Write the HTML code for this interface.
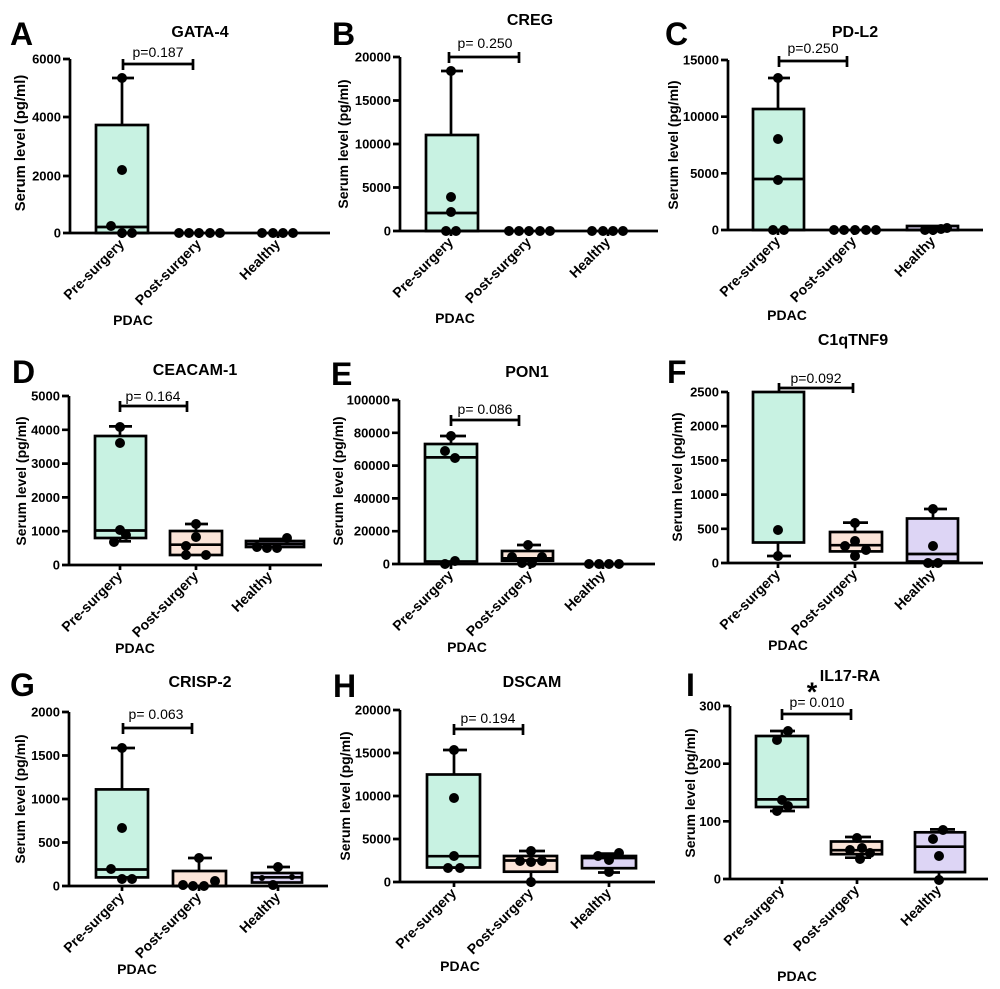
<!DOCTYPE html>
<html>
<head>
<meta charset="utf-8">
<style>
html,body{margin:0;padding:0;background:#fff;}
svg{display:block;}
text{font-family:"Liberation Sans",Arial,sans-serif;fill:#000;}
.let{font-weight:bold;font-size:32px;}
.ttl{font-weight:bold;font-size:16px;text-anchor:middle;}
.tk{font-weight:bold;font-size:13px;text-anchor:end;}
.xl{font-weight:bold;font-size:14px;text-anchor:end;}
.yl{font-weight:bold;font-size:14px;text-anchor:middle;}
.pv{font-size:14px;text-anchor:middle;}
.pd{font-weight:bold;font-size:14px;text-anchor:middle;}
.ax{stroke:#000;stroke-width:2.7;fill:none;}
.bx{stroke:#000;stroke-width:2.7;}
.g{fill:#c8f2e2;}
.o{fill:#fbe4d8;}
.l{fill:#ddd5f5;}
circle{fill:#000;}
</style>
</head>
<body>
<svg width="1000" height="989" viewBox="0 0 1000 989" xmlns="http://www.w3.org/2000/svg">
<rect width="1000" height="989" fill="#fff"/>

<!-- ===== A ===== -->
<g>
<text class="let" x="10" y="45">A</text>
<text class="ttl" x="200" y="37">GATA-4</text>
<rect class="bx g" x="96" y="125" width="52" height="108"/>
<path class="ax" d="M96,227H148 M122,125V78 M112,78H134"/>
<path class="ax" d="M70,59V233 M63,59H70 M63,117H70 M63,176H70 M63,233H330 M122,233v5 M199,233v5 M278,233v5"/>
<text class="tk" x="61" y="63.5">6000</text>
<text class="tk" x="61" y="121.5">4000</text>
<text class="tk" x="61" y="180.5">2000</text>
<text class="tk" x="61" y="237.5">0</text>
<circle cx="122" cy="78" r="5"/><circle cx="122" cy="170" r="5"/><circle cx="111" cy="226" r="5"/><circle cx="122" cy="233" r="5"/><circle cx="132" cy="233" r="5"/>
<circle cx="179" cy="233" r="5"/><circle cx="189" cy="233" r="5"/><circle cx="199" cy="233" r="5"/><circle cx="210" cy="233" r="5"/><circle cx="220" cy="233" r="5"/>
<circle cx="262" cy="233" r="5"/><circle cx="273" cy="233" r="5"/><circle cx="283" cy="233" r="5"/><circle cx="293" cy="233" r="5"/>
<path class="ax" d="M123,59V70 M123,64H193 M193,59V70"/>
<text class="pv" x="158" y="57">p=0.187</text>
<text class="yl" style="font-size:14.8px" transform="translate(25,143) rotate(-90)">Serum level (pg/ml)</text>
<text class="xl" transform="translate(125,245) rotate(-45)">Pre-surgery</text>
<text class="xl" transform="translate(202,245) rotate(-45)">Post-surgery</text>
<text class="xl" transform="translate(281,245) rotate(-45)">Healthy</text>
<text class="pd" x="133" y="325">PDAC</text>
</g>

<!-- ===== B ===== -->
<g>
<text class="let" x="332" y="45">B</text>
<text class="ttl" x="530" y="25">CREG</text>
<rect class="bx g" x="426" y="135" width="52" height="96"/>
<path class="ax" d="M426,213H478 M451,135V71 M441,71H463"/>
<path class="ax" d="M400,57V231 M393,57H400 M393,100.5H400 M393,144H400 M393,187.5H400 M393,231H658 M451,231v5 M529,231v5 M608,231v5"/>
<text class="tk" x="391" y="61.5">20000</text>
<text class="tk" x="391" y="105">15000</text>
<text class="tk" x="391" y="148.5">10000</text>
<text class="tk" x="391" y="192">5000</text>
<text class="tk" x="391" y="235.5">0</text>
<circle cx="451" cy="71" r="5"/><circle cx="451" cy="197" r="5"/><circle cx="451" cy="212" r="5"/><circle cx="446" cy="231" r="5"/><circle cx="456" cy="231" r="5"/>
<circle cx="509" cy="231" r="5"/><circle cx="519" cy="231" r="5"/><circle cx="529" cy="231" r="5"/><circle cx="540" cy="231" r="5"/><circle cx="550" cy="231" r="5"/>
<circle cx="592" cy="231" r="5"/><circle cx="603" cy="231" r="5"/><circle cx="613" cy="231" r="5"/><circle cx="623" cy="231" r="5"/>
<path class="ax" d="M449,52V63 M449,57H519 M519,52V63"/>
<text class="pv" x="485" y="48">p= 0.250</text>
<text class="yl" transform="translate(348,144) rotate(-90)">Serum level (pg/ml)</text>
<text class="xl" transform="translate(454,243) rotate(-45)">Pre-surgery</text>
<text class="xl" transform="translate(532,243) rotate(-45)">Post-surgery</text>
<text class="xl" transform="translate(611,243) rotate(-45)">Healthy</text>
<text class="pd" x="455" y="323">PDAC</text>
</g>

<!-- ===== C ===== -->
<g>
<text class="let" x="665" y="45">C</text>
<text class="ttl" x="855" y="37">PD-L2</text>
<rect class="bx g" x="753" y="109" width="51" height="121"/>
<path class="ax" d="M753,179H804 M778,109V78 M768,78H790"/>
<rect class="bx l" x="907" y="226" width="51" height="4"/>
<path class="ax" d="M721,60H728 M728,60V230 M721,116.7H728 M721,173.3H728 M721,230H983 M778,230v5 M854,230v5 M933,230v5"/>
<text class="tk" x="719" y="64.5">15000</text>
<text class="tk" x="719" y="121.2">10000</text>
<text class="tk" x="719" y="177.8">5000</text>
<text class="tk" x="719" y="234.5">0</text>
<circle cx="778" cy="78" r="5"/><circle cx="778" cy="139" r="5"/><circle cx="778" cy="180" r="5"/><circle cx="773" cy="230" r="5"/><circle cx="784" cy="230" r="5"/>
<circle cx="834" cy="230" r="5"/><circle cx="844" cy="230" r="5"/><circle cx="855" cy="230" r="5"/><circle cx="866" cy="230" r="5"/><circle cx="876" cy="230" r="5"/>
<circle cx="925" cy="230" r="5"/><circle cx="933" cy="230" r="5"/><circle cx="941" cy="229" r="5"/><circle cx="947" cy="228" r="5"/>
<path class="ax" d="M779,56V67 M779,61H847 M847,56V67"/>
<text class="pv" x="813" y="53">p=0.250</text>
<text class="yl" transform="translate(678,145) rotate(-90)">Serum level (pg/ml)</text>
<text class="xl" transform="translate(781,242) rotate(-45)">Pre-surgery</text>
<text class="xl" transform="translate(857,242) rotate(-45)">Post-surgery</text>
<text class="xl" transform="translate(936,242) rotate(-45)">Healthy</text>
<text class="pd" x="787" y="320">PDAC</text>
</g>

<!-- ===== D ===== -->
<g>
<text class="let" x="12" y="383">D</text>
<text class="ttl" x="195" y="375">CEACAM-1</text>
<rect class="bx g" x="95" y="436" width="51" height="102"/>
<path class="ax" d="M95,530.5H146 M120,436V426.4 M109,426.4H132 M120,538V541.3 M110,541.3H131"/>
<rect class="bx o" x="170" y="531" width="52" height="24"/>
<path class="ax" d="M170,544.7H222 M196,531V524 M185,524H208"/>
<rect class="bx l" x="246" y="541" width="58" height="6"/>
<path class="ax" d="M246,544H304 M270,541V539 M259,539H287"/>
<path class="ax" d="M69,396V565 M62,396H69 M62,429.8H69 M62,463.6H69 M62,497.4H69 M62,531.2H69 M62,565H322 M120,565v5 M196,565v5 M270,565v5"/>
<text class="tk" x="60" y="400.5">5000</text>
<text class="tk" x="60" y="434.3">4000</text>
<text class="tk" x="60" y="468.1">3000</text>
<text class="tk" x="60" y="501.9">2000</text>
<text class="tk" x="60" y="535.7">1000</text>
<text class="tk" x="60" y="569.5">0</text>
<circle cx="120" cy="427" r="5"/><circle cx="120" cy="443" r="5"/><circle cx="120" cy="530" r="5"/><circle cx="126" cy="535" r="5"/><circle cx="114" cy="542" r="5"/>
<circle cx="196" cy="524" r="5"/><circle cx="196" cy="537" r="5"/><circle cx="186" cy="546" r="5"/><circle cx="186" cy="555" r="5"/><circle cx="206" cy="555" r="5"/>
<circle cx="257" cy="547" r="5"/><circle cx="267" cy="548" r="5"/><circle cx="277" cy="548" r="5"/><circle cx="287" cy="538" r="5"/>
<path class="ax" d="M120,401V412 M120,406H187 M187,401V412"/>
<text class="pv" x="153" y="401">p= 0.164</text>
<text class="yl" transform="translate(26,481) rotate(-90)">Serum level (pg/ml)</text>
<text class="xl" transform="translate(123,577) rotate(-45)">Pre-surgery</text>
<text class="xl" transform="translate(199,577) rotate(-45)">Post-surgery</text>
<text class="xl" transform="translate(273,577) rotate(-45)">Healthy</text>
<text class="pd" x="135" y="653">PDAC</text>
</g>

<!-- ===== E ===== -->
<g>
<text class="let" x="331" y="385">E</text>
<text class="ttl" x="527" y="377">PON1</text>
<rect class="bx g" x="425" y="444" width="52" height="117.5"/>
<path class="ax" d="M425,457.4H477 M451,444V436 M440,436H466"/>
<rect class="bx o" x="502" y="551" width="51" height="9.7"/>
<path class="ax" d="M502,558.3H553 M528,551V545 M517,545H541"/>
<path class="ax" d="M399,400V564 M392,400H399 M392,432.8H399 M392,465.6H399 M392,498.4H399 M392,531.2H399 M392,564H655 M451,564v5 M530,564v5 M603,564v5"/>
<text class="tk" x="390" y="404.5">100000</text>
<text class="tk" x="390" y="437.3">80000</text>
<text class="tk" x="390" y="470.1">60000</text>
<text class="tk" x="390" y="502.9">40000</text>
<text class="tk" x="390" y="535.7">20000</text>
<text class="tk" x="390" y="568.5">0</text>
<circle cx="451" cy="436" r="5"/><circle cx="445" cy="451" r="5"/><circle cx="455" cy="458" r="5"/><circle cx="445" cy="564" r="5"/><circle cx="455" cy="561" r="5"/>
<circle cx="528" cy="545" r="5"/><circle cx="512" cy="557" r="5"/><circle cx="522" cy="563" r="5"/><circle cx="532" cy="563" r="5"/><circle cx="542" cy="557" r="5"/>
<circle cx="589" cy="564" r="5"/><circle cx="599" cy="564" r="5"/><circle cx="609" cy="564" r="5"/><circle cx="619" cy="564" r="5"/>
<path class="ax" d="M451,415V426 M451,420H519 M519,415V426"/>
<text class="pv" x="485" y="414">p= 0.086</text>
<text class="yl" transform="translate(343,481) rotate(-90)">Serum level (pg/ml)</text>
<text class="xl" transform="translate(454,576) rotate(-45)">Pre-surgery</text>
<text class="xl" transform="translate(533,576) rotate(-45)">Post-surgery</text>
<text class="xl" transform="translate(606,576) rotate(-45)">Healthy</text>
<text class="pd" x="467" y="652">PDAC</text>
</g>

<!-- ===== F ===== -->
<g>
<text class="let" x="667" y="383">F</text>
<text class="ttl" x="853" y="345">C1qTNF9</text>
<rect class="bx g" x="753" y="392" width="51" height="150.5"/>
<path class="ax" d="M778,542.5V556 M767,556H791"/>
<rect class="bx o" x="830" y="532" width="52" height="19.4"/>
<path class="ax" d="M830,545.2H882 M855,532V522.6 M843,522.6H868 M855,551.4V555"/>
<rect class="bx l" x="907" y="518.5" width="51" height="43"/>
<path class="ax" d="M907,554H958 M933,518.5V509 M924,509H947"/>
<path class="ax" d="M728,392V563 M721,392H728 M721,426.2H728 M721,460.4H728 M721,494.6H728 M721,528.8H728 M721,563H983 M778,563v5 M855,563v5 M933,563v5"/>
<text class="tk" x="719" y="396.5">2500</text>
<text class="tk" x="719" y="430.7">2000</text>
<text class="tk" x="719" y="464.9">1500</text>
<text class="tk" x="719" y="499.1">1000</text>
<text class="tk" x="719" y="533.3">500</text>
<text class="tk" x="719" y="567.5">0</text>
<circle cx="778" cy="530" r="5"/><circle cx="778" cy="556" r="5"/>
<circle cx="855" cy="523" r="5"/><circle cx="855" cy="541" r="5"/><circle cx="845" cy="546" r="5"/><circle cx="866" cy="550" r="5"/><circle cx="855" cy="556" r="5"/>
<circle cx="933" cy="509" r="5"/><circle cx="933" cy="546" r="5"/><circle cx="928" cy="563" r="5"/><circle cx="938" cy="563" r="5"/>
<path class="ax" d="M779,383V393 M779,388H853 M853,383V393"/>
<text class="pv" x="816" y="383">p=0.092</text>
<text class="yl" transform="translate(682,477) rotate(-90)">Serum level (pg/ml)</text>
<text class="xl" transform="translate(781,575) rotate(-45)">Pre-surgery</text>
<text class="xl" transform="translate(858,575) rotate(-45)">Post-surgery</text>
<text class="xl" transform="translate(936,575) rotate(-45)">Healthy</text>
<text class="pd" x="788" y="650">PDAC</text>
</g>

<!-- ===== G ===== -->
<g>
<text class="let" x="10" y="696">G</text>
<text class="ttl" x="200" y="687">CRISP-2</text>
<rect class="bx g" x="96" y="789.4" width="52" height="88"/>
<path class="ax" d="M96,869.5H148 M122,789.4V748 M111,748H135"/>
<rect class="bx o" x="173" y="871" width="53" height="15"/>
<path class="ax" d="M199,871V858 M188,858H212"/>
<rect class="bx l" x="252" y="873" width="50" height="9.5"/>
<path class="ax" d="M252,877.3H302 M278,873V867 M267,867H290"/>
<path class="ax" d="M69,712V886 M62,712H69 M62,755.5H69 M62,799H69 M62,842.5H69 M62,886H328 M122,886v5 M199,886v5 M278,886v5"/>
<text class="tk" x="60" y="716.5">2000</text>
<text class="tk" x="60" y="760">1500</text>
<text class="tk" x="60" y="803.5">1000</text>
<text class="tk" x="60" y="847">500</text>
<text class="tk" x="60" y="890.5">0</text>
<circle cx="122" cy="748" r="5"/><circle cx="122" cy="828" r="5"/><circle cx="111" cy="869" r="5"/><circle cx="122" cy="879" r="5"/><circle cx="132" cy="879" r="5"/>
<circle cx="199" cy="858" r="5"/><circle cx="183" cy="885" r="5"/><circle cx="193" cy="886" r="5"/><circle cx="204" cy="886" r="5"/><circle cx="215" cy="881" r="5"/>
<circle cx="278" cy="867" r="5"/><circle cx="273" cy="885" r="5"/><circle cx="262" cy="878" r="3"/><circle cx="292" cy="877" r="3"/>
<path class="ax" d="M123,723V734 M123,728H192 M192,723V734"/>
<text class="pv" x="156" y="719">p= 0.063</text>
<text class="yl" transform="translate(25,799) rotate(-90)">Serum level (pg/ml)</text>
<text class="xl" transform="translate(125,898) rotate(-45)">Pre-surgery</text>
<text class="xl" transform="translate(202,898) rotate(-45)">Post-surgery</text>
<text class="xl" transform="translate(281,898) rotate(-45)">Healthy</text>
<text class="pd" x="137" y="974">PDAC</text>
</g>

<!-- ===== H ===== -->
<g>
<text class="let" x="333" y="697">H</text>
<text class="ttl" x="532" y="687">DSCAM</text>
<rect class="bx g" x="427" y="774.5" width="53" height="93"/>
<path class="ax" d="M427,856.2H480 M454,774.5V750 M443,750H467 M454,867.4V869"/>
<rect class="bx o" x="504" y="856" width="53" height="15.7"/>
<path class="ax" d="M504,860.5H557 M531,856V851 M519,851H545 M531,871.7V882"/>
<rect class="bx l" x="582" y="856" width="54" height="12.2"/>
<path class="ax" d="M582,858H636 M609,856V853.6 M600,853.6H620 M609,868.2V872.5 M598,872.5H620"/>
<path class="ax" d="M400,710V882 M393,710H400 M393,753H400 M393,796H400 M393,839H400 M393,882H655 M454,882v5 M531,882v5 M609,882v5"/>
<text class="tk" x="391" y="714.5">20000</text>
<text class="tk" x="391" y="757.5">15000</text>
<text class="tk" x="391" y="800.5">10000</text>
<text class="tk" x="391" y="843.5">5000</text>
<text class="tk" x="391" y="886.5">0</text>
<circle cx="454" cy="750" r="5"/><circle cx="454" cy="798" r="5"/><circle cx="454" cy="856" r="5"/><circle cx="448" cy="868" r="5"/><circle cx="460" cy="868" r="5"/>
<circle cx="531" cy="851" r="5"/><circle cx="520" cy="861" r="5"/><circle cx="531" cy="862" r="5"/><circle cx="542" cy="861" r="5"/><circle cx="531" cy="882" r="5"/>
<circle cx="598" cy="856" r="5"/><circle cx="609" cy="860" r="5"/><circle cx="619" cy="853" r="5"/><circle cx="609" cy="872" r="5"/>
<path class="ax" d="M454,724V735 M454,729H523 M523,724V735"/>
<text class="pv" x="488" y="723">p= 0.194</text>
<text class="yl" transform="translate(350,796) rotate(-90)">Serum level (pg/ml)</text>
<text class="xl" transform="translate(457,894) rotate(-45)">Pre-surgery</text>
<text class="xl" transform="translate(534,894) rotate(-45)">Post-surgery</text>
<text class="xl" transform="translate(612,894) rotate(-45)">Healthy</text>
<text class="pd" x="460" y="971">PDAC</text>
</g>

<!-- ===== I ===== -->
<g>
<text class="let" x="686" y="696">I</text>
<text class="ttl" x="850" y="681">IL17-RA</text>
<text x="812" y="701" style="font-weight:bold;font-size:27px;text-anchor:middle;">*</text>
<rect class="bx g" x="756" y="736" width="52" height="71"/>
<path class="ax" d="M756,799.4H808 M782,736V731 M770,731H795 M782,807V811 M770,811H795"/>
<rect class="bx o" x="831" y="841.5" width="51" height="12.7"/>
<path class="ax" d="M831,850.2H882 M857,841.5V837 M845,837H871 M857,854.2V857.7 M845,857.7H871"/>
<rect class="bx l" x="915" y="832.3" width="50" height="39.8"/>
<path class="ax" d="M915,846.7H965 M939,832.3V829.4 M930,829.4H955 M939,872V879"/>
<path class="ax" d="M730,706V879 M723,706H730 M723,763.7H730 M723,821.3H730 M723,879H988 M782,879v5 M857,879v5 M939,879v5"/>
<text class="tk" x="721" y="710.5">300</text>
<text class="tk" x="721" y="768.2">200</text>
<text class="tk" x="721" y="825.8">100</text>
<text class="tk" x="721" y="883.5">0</text>
<circle cx="788" cy="731" r="5"/><circle cx="777" cy="740" r="5"/><circle cx="782" cy="800" r="5"/><circle cx="788" cy="806" r="5"/><circle cx="777" cy="811" r="5"/>
<circle cx="857" cy="838" r="5"/><circle cx="850" cy="850" r="5"/><circle cx="862" cy="848" r="5"/><circle cx="870" cy="853" r="5"/><circle cx="860" cy="859" r="5"/>
<circle cx="943" cy="830" r="5"/><circle cx="933" cy="839" r="5"/><circle cx="939" cy="856" r="5"/><circle cx="939" cy="880" r="5"/>
<path class="ax" d="M782,709V720 M782,714H851 M851,709V720"/>
<text class="pv" x="817" y="707">p= 0.010</text>
<text class="yl" transform="translate(695,793) rotate(-90)">Serum level (pg/ml)</text>
<text class="xl" transform="translate(785,891) rotate(-45)">Pre-surgery</text>
<text class="xl" transform="translate(860,891) rotate(-45)">Post-surgery</text>
<text class="xl" transform="translate(942,891) rotate(-45)">Healthy</text>
<text class="pd" x="797" y="981">PDAC</text>
</g>

</svg>
</body>
</html>
